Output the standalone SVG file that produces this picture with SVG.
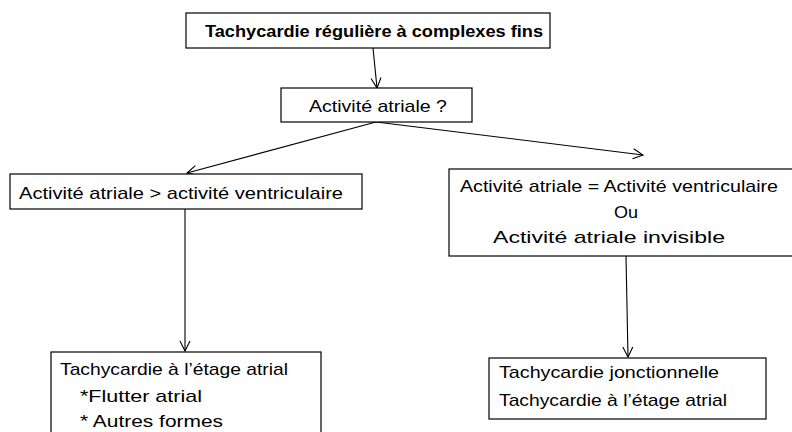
<svg xmlns="http://www.w3.org/2000/svg" width="792" height="432" viewBox="0 0 792 432">
  <style>
    .box { fill: #ffffff; stroke: #000000; stroke-width: 1.2; }
    .lbl { font-family: "Liberation Sans", Arial, sans-serif; font-size: 17px; fill: #000000; }
    .bold { font-weight: bold; }
    .edge { fill: none; stroke: #000000; stroke-width: 1.1; marker-end: url(#vhead); }
  </style>
  <defs>
    <marker id="vhead" viewBox="0 0 12 12" refX="11" refY="6" markerWidth="12" markerHeight="12" markerUnits="userSpaceOnUse" orient="auto">
      <path d="M1,1 L11,6 L1,11" fill="none" stroke="#000000" stroke-width="1.1"/>
    </marker>
  </defs>

  <rect width="792" height="432" fill="#ffffff"/>

  <g id="connectors">
    <line class="edge" x1="373" y1="48" x2="377" y2="88"/>
    <line class="edge" x1="376" y1="122" x2="187" y2="173"/>
    <line class="edge" x1="376" y1="122" x2="643" y2="155"/>
    <line class="edge" x1="185" y1="209" x2="185" y2="351"/>
    <line class="edge" x1="626" y1="256" x2="628" y2="357"/>
  </g>

  <g id="n-start">
    <rect class="box" x="186" y="13" width="364" height="35"/>
    <text class="lbl bold" x="205" y="37" textLength="338" lengthAdjust="spacingAndGlyphs">Tachycardie régulière à complexes fins</text>
  </g>

  <g id="n-question">
    <rect class="box" x="281" y="88" width="191" height="34"/>
    <text class="lbl" x="309" y="112" textLength="138" lengthAdjust="spacingAndGlyphs">Activité atriale ?</text>
  </g>

  <g id="n-left">
    <rect class="box" x="10" y="174" width="352" height="35"/>
    <text class="lbl" x="19" y="199" textLength="324" lengthAdjust="spacingAndGlyphs">Activité atriale &gt; activité ventriculaire</text>
  </g>

  <g id="n-right">
    <rect class="box" x="449" y="169" width="350" height="87"/>
    <text class="lbl" x="460" y="192" textLength="318" lengthAdjust="spacingAndGlyphs">Activité atriale = Activité ventriculaire</text>
    <text class="lbl" x="614" y="218" textLength="24" lengthAdjust="spacingAndGlyphs">Ou</text>
    <text class="lbl" x="493" y="243" textLength="232" lengthAdjust="spacingAndGlyphs">Activité atriale invisible</text>
  </g>

  <g id="n-atrial">
    <rect class="box" x="51" y="352" width="270" height="90"/>
    <text class="lbl" x="60" y="375" textLength="228" lengthAdjust="spacingAndGlyphs">Tachycardie à l’étage atrial</text>
    <text class="lbl" x="80" y="402" textLength="122" lengthAdjust="spacingAndGlyphs">*Flutter atrial</text>
    <text class="lbl" x="80" y="427" textLength="143" lengthAdjust="spacingAndGlyphs">* Autres formes</text>
  </g>

  <g id="n-junction">
    <rect class="box" x="489" y="358" width="277" height="61"/>
    <text class="lbl" x="499" y="378" textLength="220" lengthAdjust="spacingAndGlyphs">Tachycardie jonctionnelle</text>
    <text class="lbl" x="499" y="406" textLength="228" lengthAdjust="spacingAndGlyphs">Tachycardie à l’étage atrial</text>
  </g>
</svg>
